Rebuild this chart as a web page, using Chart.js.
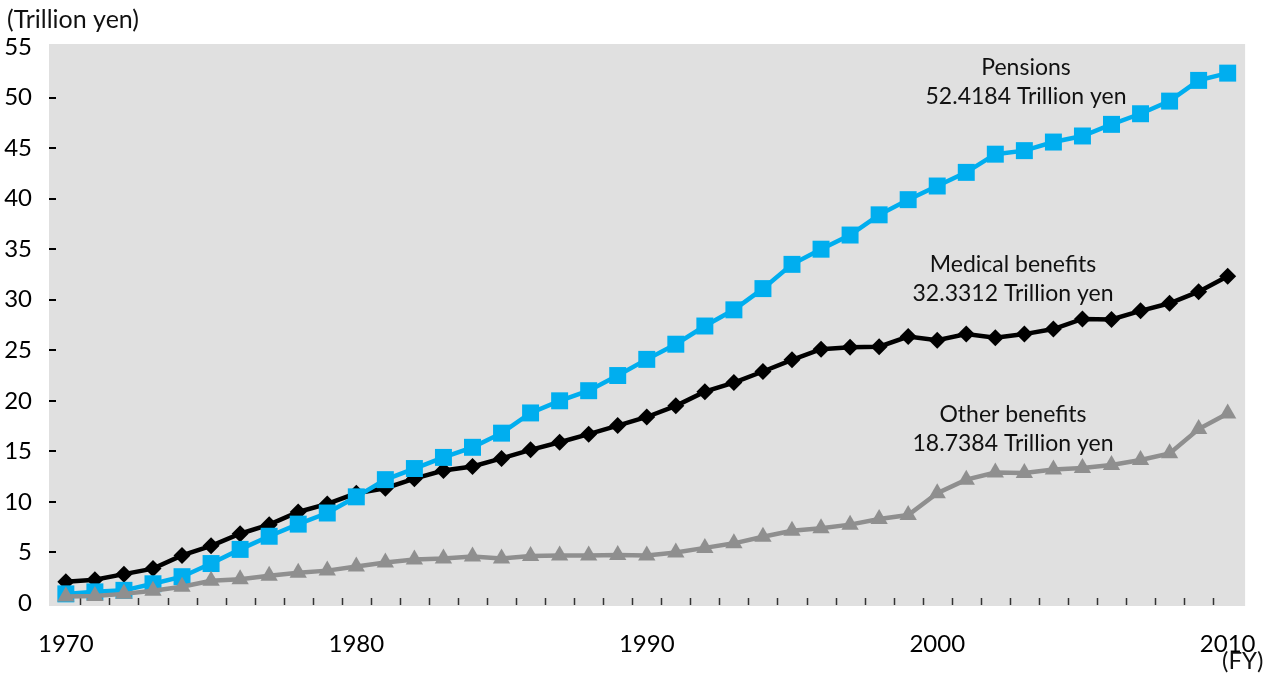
<!DOCTYPE html>
<html>
<head>
<meta charset="utf-8">
<script src="https://cdn.jsdelivr.net/npm/chart.js@4.4.0/dist/chart.umd.min.js"></script>
<style>
  html, body { margin: 0; padding: 0; background: #fff; }
  #wrap { width: 1280px; height: 675px; }
</style>
</head>
<body>
<div id="wrap"><canvas id="myChart" width="1280" height="675"></canvas></div>
<script>
// fiscal years 1970 - 2010
const years = [
  1970, 1971, 1972, 1973, 1974, 1975, 1976, 1977, 1978, 1979,
  1980, 1981, 1982, 1983, 1984, 1985, 1986, 1987, 1988, 1989,
  1990, 1991, 1992, 1993, 1994, 1995, 1996, 1997, 1998, 1999,
  2000, 2001, 2002, 2003, 2004, 2005, 2006, 2007, 2008, 2009, 2010
]

// trillion yen
const pensions = [
  0.9, 1.1, 1.25, 1.9, 2.6, 3.9, 5.3, 6.6, 7.8, 8.9,
  10.5, 12.2, 13.3, 14.4, 15.4, 16.8, 18.8, 20.0, 21.0, 22.5,
  24.1, 25.6, 27.4, 29.0, 31.1, 33.5, 35.0, 36.4, 38.4, 39.9,
  41.25, 42.6, 44.4, 44.75, 45.6, 46.2, 47.35, 48.4, 49.65, 51.7, 52.4184
]
const medical = [
  2.1, 2.3, 2.85, 3.4, 4.7, 5.65, 6.85, 7.75, 9.0, 9.8,
  10.85, 11.35, 12.3, 13.1, 13.5, 14.3, 15.15, 15.9, 16.7, 17.55,
  18.4, 19.5, 20.9, 21.8, 22.9, 24.05, 25.1, 25.3, 25.35, 26.35,
  26.0, 26.6, 26.25, 26.6, 27.1, 28.1, 28.05, 28.9, 29.65, 30.8, 32.3312
]
const other = [
  0.65, 0.7, 0.9, 1.2, 1.6, 2.2, 2.35, 2.7, 3.0, 3.2,
  3.6, 4.0, 4.3, 4.4, 4.6, 4.4, 4.65, 4.7, 4.7, 4.75,
  4.7, 5.0, 5.45, 5.9, 6.55, 7.15, 7.4, 7.75, 8.3, 8.7,
  10.85, 12.2, 12.9, 12.85, 13.2, 13.35, 13.65, 14.15, 14.8, 17.2, 18.7384
]

const xTicks = [1970, 1980, 1990, 2000, 2010]
const yTicks = [0, 5, 10, 15, 20, 25, 30, 35, 40, 45, 50, 55]

const notes = [
  { lines: ['Pensions', '52.4184 Trillion yen'], x: 1026, y: 68 },
  { lines: ['Medical benefits', '32.3312 Trillion yen'], x: 1013, y: 265 },
  { lines: ['Other benefits', '18.7384 Trillion yen'], x: 1013, y: 415 }
]

const FONT = 'Lato, "Noto Sans", sans-serif'

const toPoints = arr => arr.map((v, i) => ({ x: years[i], y: v }))

// gray plot background, inner tick marks and free text
const decor = {
    id: 'decor',
    beforeDraw(chart) {
        const { ctx, chartArea: a } = chart
        ctx.save()
        ctx.fillStyle = '#e0e0e0'
        ctx.fillRect(a.left, a.top, a.right - a.left, a.bottom - a.top)
        ctx.restore()
    },
    beforeDatasetsDraw(chart) {
        const { ctx, chartArea: a, scales } = chart
        ctx.save()
        ctx.strokeStyle = '#333'
        ctx.lineWidth = 1.5
        for (let yr = 1970.5; yr < 2010; yr++) {
            const px = Math.round(scales.x.getPixelForValue(yr)) + 0.5
            ctx.beginPath()
            ctx.moveTo(px, a.bottom - 8)
            ctx.lineTo(px, a.bottom - 1)
            ctx.stroke()
        }
        ctx.strokeStyle = '#000'
        ctx.lineWidth = 2
        yTicks.slice(1, -1).forEach(v => {
            const py = Math.round(scales.y.getPixelForValue(v))
            ctx.beginPath()
            ctx.moveTo(a.left, py)
            ctx.lineTo(a.left + 7, py)
            ctx.stroke()
        })
        ctx.restore()
    },
    afterDraw(chart) {
        const { ctx } = chart
        ctx.save()
        ctx.fillStyle = '#111'
        ctx.textBaseline = 'middle'
        ctx.textAlign = 'left'
        ctx.font = '25px ' + FONT
        ctx.fillText('(Trillion yen)', 7, 20)
        ctx.font = '24px ' + FONT
        ctx.fillText('(FY)', 1222, 661)
        ctx.textAlign = 'center'
        ctx.font = '23px ' + FONT
        notes.forEach(n => {
            n.lines.forEach((t, i) => ctx.fillText(t, n.x, n.y + i * 29))
        })
        ctx.restore()
    }
}

const context = document.getElementById('myChart').getContext('2d')
const myChart = new Chart(context, {
    type: 'line',
    data: {
        datasets: [
            {
                label: 'Other benefits',
                data: toPoints(other),
                borderColor: '#8f8f8f',
                backgroundColor: '#8f8f8f',
                borderWidth: 4.5,
                pointStyle: 'triangle',
                pointRadius: 10,
                pointBorderWidth: 0
            },
            {
                label: 'Pensions',
                data: toPoints(pensions),
                borderColor: '#00aeef',
                backgroundColor: '#00aeef',
                borderWidth: 4.5,
                pointStyle: 'rect',
                pointRadius: 12,
                pointBorderWidth: 0
            },
            {
                label: 'Medical benefits',
                data: toPoints(medical),
                borderColor: '#000',
                backgroundColor: '#000',
                borderWidth: 4.5,
                pointStyle: 'rectRot',
                pointRadius: 8.5,
                pointBorderWidth: 0
            }
        ]
    },
    options: {
        responsive: false,
        animation: false,
        events: [],
        layout: { padding: { left: 0, right: 33, top: 44, bottom: 0 } },
        plugins: {
            legend: { display: false },
            tooltip: { enabled: false }
        },
        scales: {
            x: {
                type: 'linear',
                min: 1969.42,
                max: 2010.6,
                afterBuildTicks: s => { s.ticks = xTicks.map(v => ({ value: v })) },
                afterFit: s => { s.height = 69 },
                grid: { display: false, drawTicks: false },
                border: { display: false },
                ticks: {
                    padding: 24,
                    color: '#000',
                    font: { family: FONT, size: 24 },
                    callback: v => String(v)
                }
            },
            y: {
                min: -0.3,
                max: 55.3,
                afterBuildTicks: s => { s.ticks = yTicks.map(v => ({ value: v })) },
                afterFit: s => { s.width = 49 },
                grid: { display: false, drawTicks: false },
                border: { display: false },
                ticks: {
                    padding: 17,
                    color: '#000',
                    font: { family: FONT, size: 24 }
                }
            }
        }
    },
    plugins: [decor]
})
</script>
</body>
</html>
